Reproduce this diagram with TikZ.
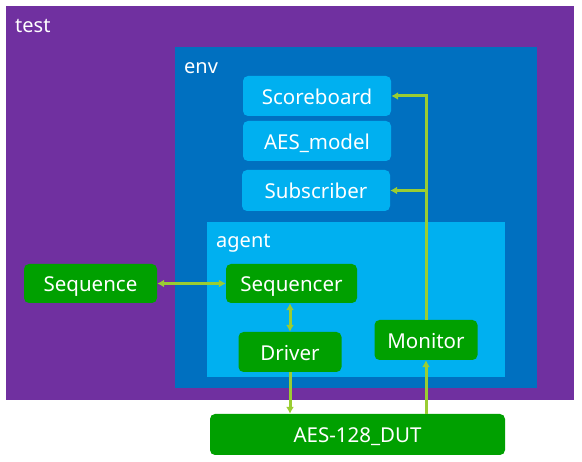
\documentclass[tikz,border=0pt]{standalone}
\usepackage{fontspec}
\setmainfont{Noto Sans}
\usetikzlibrary{arrows.meta}
\definecolor{testpurple}{HTML}{7030A0}
\definecolor{envblue}{HTML}{0070C0}
\definecolor{lightblue}{HTML}{00B0F0}
\definecolor{boxgreen}{HTML}{00A000}
\definecolor{arrowgreen}{HTML}{9ACD32}
\begin{document}
\begin{tikzpicture}[x=1pt,y=-1pt,
  container/.style={rectangle, inner sep=0pt, anchor=north west},
  lbl/.style={text=white, font=\fontsize{20}{22}\selectfont, anchor=base west, inner sep=0pt},
  bluebox/.style={rectangle, rounded corners=5pt, fill=lightblue, text=white, font=\fontsize{20.5}{22}\selectfont, minimum width=148pt, minimum height=40pt, inner sep=0pt, text height=17pt, text depth=0pt},
  greenbox/.style={rectangle, rounded corners=5pt, fill=boxgreen, text=white, font=\fontsize{20.5}{22}\selectfont, minimum height=40pt, inner sep=0pt, text height=17pt, text depth=0pt},
  arr/.style={draw=arrowgreen, line width=3pt, -{Latex[length=7pt,width=8pt]}},
  darr/.style={draw=arrowgreen, line width=3pt, {Latex[length=7pt,width=8pt]}-{Latex[length=7pt,width=8pt]}}
]
\useasboundingbox[fill=white] (0,0) rectangle (582,462);
\node[container, fill=testpurple, minimum width=568pt, minimum height=394pt] (test) at (6,6) {};
\node[container, fill=envblue, minimum width=362pt, minimum height=341pt] (env) at (175,47) {};
\node[container, fill=lightblue, minimum width=298pt, minimum height=155pt] (agent) at (207,222) {};
\node[lbl] (testlbl) at (15,33) {test};
\node[lbl] (envlbl) at (184,74) {env};
\node[lbl] (agentlbl) at (216,248) {agent};

\node[bluebox] (scoreboard) at (317,96) {Scoreboard};
\node[bluebox] (model) at (317,141) {AES\_model};
\node[bluebox, minimum height=41pt] (subscriber) at (316,190.5) {Subscriber};

\node[greenbox, minimum width=133pt, minimum height=39pt] (sequence) at (90.5,283.5) {Sequence};
\node[greenbox, minimum width=131pt, minimum height=39pt] (sequencer) at (291.5,283.5) {Sequencer};
\node[greenbox, minimum width=103pt] (driver) at (290,352) {Driver};
\node[greenbox, minimum width=103pt] (monitor) at (426,340) {Monitor};
\node[greenbox, minimum width=295pt, minimum height=41pt] (dut) at (357.5,434.5) {AES-128\_DUT};

\draw[arr] (monitor.north) |- (scoreboard.east);
\draw[arr] (monitor.north |- subscriber.east) -- (subscriber.east);
\draw[darr] (sequence.east) -- (sequencer.west);
\draw[darr] (sequencer.south -| driver.north) -- (driver.north);
\draw[arr] (driver.south) -- (driver.south |- dut.north);
\draw[arr] (monitor.south |- dut.north) -- (monitor.south);
\end{tikzpicture}
\end{document}
